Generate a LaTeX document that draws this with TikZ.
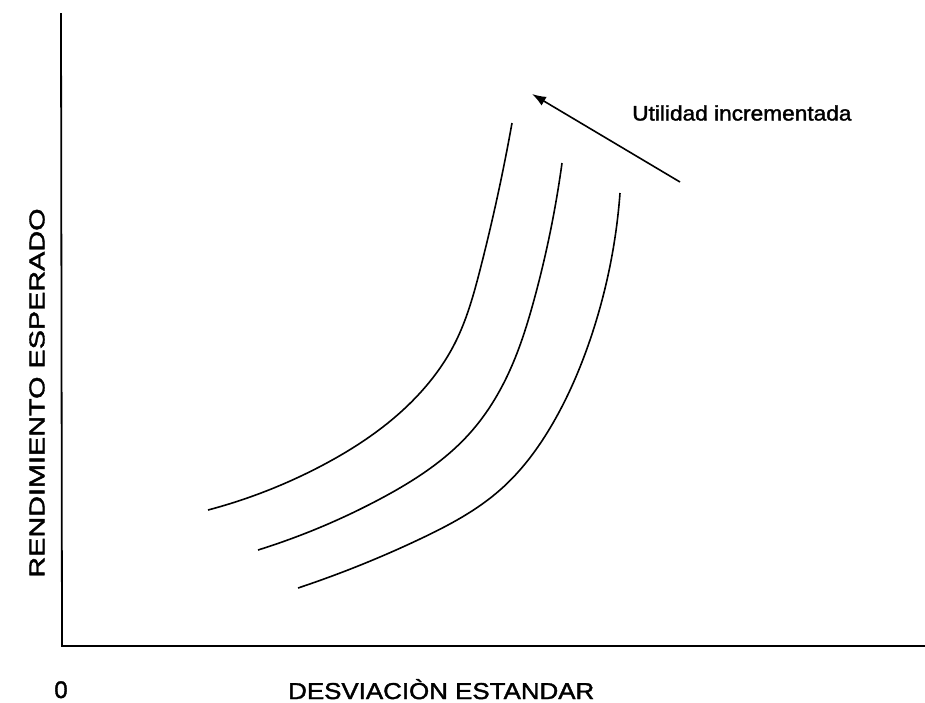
\documentclass[tikz,border=0pt]{standalone}
\usepackage{fontspec}
\setmainfont{Liberation Sans}
\newfontfamily\lblfont{Liberation Sans}[FakeBold=1.6]
\usetikzlibrary{arrows.meta,hobby}
\begin{document}
\begin{tikzpicture}[x=1pt,y=-1pt,
  axis/.style={line width=1.8pt,black},
  curve/.style={line width=1.6pt,black,use Hobby shortcut},
  lbl/.style={inner sep=0pt,text=black,font=\lblfont}]
\useasboundingbox (0,0) rectangle (925,702);
% axes
\coordinate (top) at (61,13);
\coordinate (orig) at (62,646);
\coordinate (xend) at (925,646);
\draw[axis] (top) -- (orig) -- (xend);
% indifference curves
\draw[curve] (208,510) .. (323,465) .. (420,393) .. (455,343) .. (480,270) .. (512,123);
\draw[curve] (258,550) .. (380,499) .. (470,433) .. (510,370) .. (534,300) .. (562,163);
\draw[curve] (298,588) .. (420,539) .. (500,490) .. (553,423) .. (590,340) .. (620,193);
% arrow
\coordinate (atail) at (680,182);
\coordinate (ahead) at (532,94);
\draw[line width=1.6pt,-{Latex[length=14pt,width=10pt]}] (atail) -- (ahead);
\node[lbl,anchor=west] (util) at (632,113) {\scalebox{1.08}[1]{\fontsize{21}{21}\selectfont Utilidad incrementada}};
% labels
\node[lbl,rotate=90] (ylab) at (37,393) {\scalebox{1.34}[1]{\fontsize{21.5}{21.5}\selectfont RENDIMIENTO ESPERADO}};
\node[lbl,anchor=base west] (xlab) at (288,699) {\scalebox{1.126}[1]{\fontsize{23}{23}\selectfont DESVIACIÒN ESTANDAR}};
\node[lbl,anchor=base] (zero) at (61,698) {\fontsize{24}{24}\selectfont 0};
\end{tikzpicture}
\end{document}
